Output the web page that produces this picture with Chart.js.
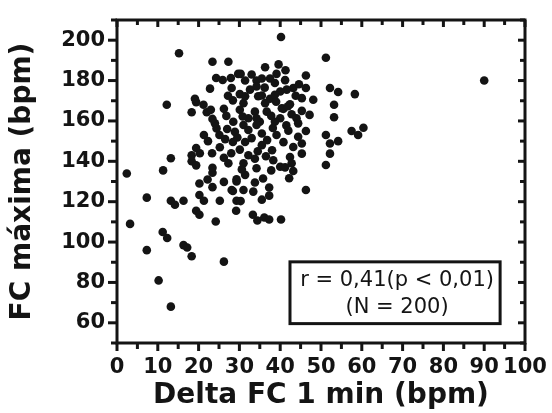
<!DOCTYPE html>
<html><head><meta charset="utf-8">
<script src="https://cdn.jsdelivr.net/npm/chart.js@4.4.1/dist/chart.umd.min.js"></script>
<style>html,body{margin:0;padding:0;background:#fff;}</style>
</head><body>
<canvas id="c" width="552" height="413"></canvas>
<script>
// Delta FC 1 min (bpm)
const deltaFC = [
  2.4, 3.2, 7.3, 7.3, 10.2, 11.2, 12.3, 13.2, 11.3, 13.2, 12.2, 15.2, 13.2, 14.2, 16.3, 16.3, 17.2, 18.3, 26.2, 19.4,
  20.2, 24.2, 20.2, 20.2, 21.3, 23.4, 23.4, 23.4, 25.2, 28.4, 29.3, 29.3, 29.2, 18.3, 19.4, 18.3, 20.3, 19.4, 23.3, 26.2,
  27.3, 25.2, 28.4, 21.3, 25.1, 24.4, 24.0, 23.4, 28.5, 18.3, 22.0, 23.0, 26.2, 21.2, 19.4, 19.1, 28.4, 28.1, 24.3, 25.9,
  27.9, 29.7, 23.4, 27.3, 28.9,
  30.3, 31.4, 34.2, 35.5, 37.5, 39.1, 36.3, 41.3, 46.3, 40.2, 51.2, 38.7, 46.3, 52.2, 54.2, 58.3, 43.2, 41.6, 40.0, 34.2,
  32.6, 30.1, 35.5, 37.5, 45.3, 48.1, 31.0, 36.3, 42.4, 53.2, 40.8, 45.3, 30.1, 33.8, 36.7, 42.8, 53.2, 32.2, 40.0, 44.0,
  35.0, 44.4, 31.0, 57.5, 59.1, 60.4, 46.3, 32.2, 35.5, 39.1, 44.4, 51.2, 54.2, 52.2, 31.4, 35.5, 45.3, 43.2, 52.2, 45.3,
  30.1, 32.2, 33.8, 38.3, 42.4, 31.0, 40.0, 42.8, 34.2, 43.2, 51.2, 31.4, 29.3, 42.2, 28.1, 31.0, 33.4, 37.3, 37.3, 35.5,
  30.3, 46.3, 33.3, 34.4, 36.1, 37.3, 40.2, 90.0, 38.7, 34.6, 31.4, 40.4, 34.2, 38.7, 34.2, 41.2, 41.9,
  37.8, 38.2, 41.5, 42.0, 36.8, 33.0, 29.5, 27.0, 26.8, 30.8, 39.0, 43.8, 47.2, 38.0, 40.8, 36.5, 34.5, 28.0, 26.5, 22.3,
  41.2, 44.6, 36.2, 33.0, 39.6, 30.6, 37.8, 35.8, 33.8, 26.2, 22.2, 27.2, 22.8
];
// FC máxima (bpm)
const fcMax = [
  134, 109, 122, 96, 81, 105, 102, 68, 135.5, 141.5, 168, 193.5, 120.5, 118.5, 120.5, 98.5, 97.3, 93, 90.3, 115.5,
  113.5, 110.2, 129, 123.3, 120.5, 127.2, 134.3, 136.8, 120.5, 125.3, 130, 120.5, 115.5, 140, 138, 143, 144, 146.6, 144, 141.8,
  139, 147, 149.6, 153, 153, 156.3, 158.8, 161, 159.6, 164.3, 164.3, 165.5, 166, 168, 169.3, 171, 170.2, 176.3, 181.3, 180.3,
  181.3, 183.3, 189.3, 189.3, 154.6,
  183.3, 180, 180, 181, 181, 183.3, 186.6, 185.1, 182.5, 201.6, 191.3, 178.8, 176.3, 176.3, 174.3, 173.3, 176.3, 175.5, 174.6, 177.1,
  175.5, 173.3, 172.6, 171, 171.3, 170.5, 168.8, 168.8, 168.3, 168, 166, 165, 165.5, 164.6, 164.6, 163.3, 161.8, 161.3, 161.3, 161.3,
  159.6, 158.8, 158, 155, 153, 156.6, 155, 155.5, 153.8, 153, 152.2, 153, 150, 148.8, 149.6, 148, 148.8, 147.1, 143.8, 143.8,
  145.8, 143, 141.3, 140.5, 142.1, 139, 137.3, 139, 136.6, 135.2, 138.2, 133.3, 131.1, 131.6, 125.8, 125.8, 125, 127, 123, 121,
  120.3, 125.8, 113.5, 110.7, 112.2, 111.2, 111.2, 180, 173, 172.2, 172.2, 166.3, 161.3, 159.6, 158, 137, 167.3,
  162.5, 156.5, 157.8, 155.2, 150.5, 151.5, 151.8, 156.0, 162.5, 162.2, 169.5, 172.5, 163.0, 145.5, 149.5, 142.5, 145.0, 144.0, 151.0, 150.0,
  180.2, 178.2, 176.5, 183.0, 188.0, 136.0, 135.5, 131.5, 129.5, 129.8, 131.0, 172.5, 176.0
];
const xTickLabels = ['0','10','20','30','40','50','60','70','80','90','100'];
const yTickLabels = ['60','80','100','120','140','160','180','200'];
const statLines = ['r = 0,41(p < 0,01)', '(N = 200)'];

const points = deltaFC.map((x, i) => ({x: x, y: fcMax[i]}));
const INK = '#141414';

const framePlugin = {
  id: 'frame',
  afterDraw(chart) {
    const {ctx, chartArea: ca} = chart;
    const xa = chart.scales.x, ya = chart.scales.y;
    ctx.save();
    ctx.strokeStyle = INK;
    ctx.lineWidth = 3;
    ctx.strokeRect(ca.left, ca.top, ca.right - ca.left, ca.bottom - ca.top);
    ctx.lineWidth = 3;
    const line = (a, b, c, d) => { ctx.beginPath(); ctx.moveTo(a, b); ctx.lineTo(c, d); ctx.stroke(); };
    for (let v = 0; v <= 100; v += 5) {
      const px = xa.getPixelForValue(v);
      const major = v % 10 === 0;
      line(px, ca.bottom, px, ca.bottom + (major ? 8 : 6));
      line(px, ca.top, px, ca.top + (major ? 7 : 5));
    }
    for (let v = 50; v <= 210; v += 10) {
      const py = ya.getPixelForValue(v);
      const major = v % 20 === 0;
      line(ca.left - (major ? 9 : 6), py, ca.left, py);
      line(ca.right - (major ? 7 : 5), py, ca.right, py);
    }
    // stats box
    const bx1 = xa.getPixelForValue(42.4), bx2 = xa.getPixelForValue(93.9);
    const by1 = ya.getPixelForValue(90.2), by2 = ya.getPixelForValue(59.6);
    ctx.fillStyle = '#fff';
    ctx.fillRect(bx1, by1, bx2 - bx1, by2 - by1);
    ctx.lineWidth = 3;
    ctx.strokeRect(bx1, by1, bx2 - bx1, by2 - by1);
    ctx.fillStyle = INK;
    ctx.font = '21px "DejaVu Sans"';
    ctx.textAlign = 'center';
    ctx.textBaseline = 'middle';
    const cx = (bx1 + bx2) / 2 + 2;
    ctx.fillText(statLines[0], cx, by1 + 19);
    ctx.fillText(statLines[1], cx, by1 + 46);
    ctx.restore();
  }
};

new Chart(document.getElementById('c'), {
  type: 'scatter',
  data: {
    datasets: [{
      data: points,
      pointRadius: 4.3,
      pointHoverRadius: 4.3,
      backgroundColor: INK,
      borderColor: INK,
      borderWidth: 0
    }]
  },
  options: {
    responsive: false,
    animation: false,
    devicePixelRatio: 1,
    layout: {padding: {top: 20, right: 27, left: 0, bottom: 0}},
    plugins: {legend: {display: false}, tooltip: {enabled: false}},
    scales: {
      x: {
        type: 'linear', min: 0, max: 100,
        afterFit: (s) => { s.height = 70; },
        border: {display: false},
        grid: {display: true, drawOnChartArea: false, drawTicks: true, tickLength: 8, color: 'rgba(0,0,0,0)'},
        ticks: {
          stepSize: 5, autoSkip: false, maxRotation: 0, padding: 4, color: INK,
          font: {family: 'DejaVu Sans', weight: 'bold', size: 21},
          callback: (v) => xTickLabels.includes(String(v)) ? String(v) : ''
        },
        title: {display: true, text: 'Delta FC 1 min (bpm)', color: INK,
          font: {family: 'DejaVu Sans', weight: 'bold', size: 28}, padding: {top: 0, bottom: 0}}
      },
      y: {
        type: 'linear', min: 50, max: 210,
        afterFit: (s) => { s.width = 117; },
        border: {display: false},
        grid: {display: true, drawOnChartArea: false, drawTicks: true, tickLength: 8, color: 'rgba(0,0,0,0)'},
        ticks: {
          stepSize: 10, autoSkip: false, padding: 4, color: INK,
          font: {family: 'DejaVu Sans', weight: 'bold', size: 21},
          callback: (v) => yTickLabels.includes(String(v)) ? String(v) : ''
        },
        title: {display: true, text: 'FC máxima (bpm)', color: INK,
          font: {family: 'DejaVu Sans', weight: 'bold', size: 28}, padding: {top: 6, bottom: 0}}
      }
    }
  },
  plugins: [framePlugin]
});
</script>
</body></html>
